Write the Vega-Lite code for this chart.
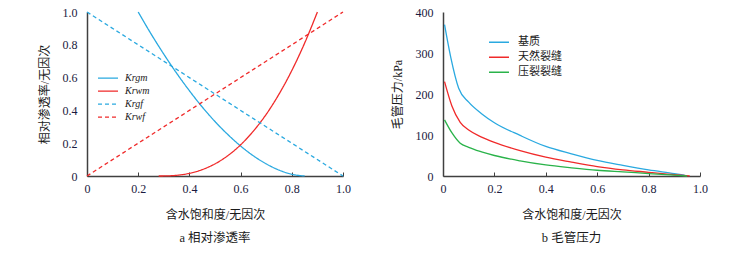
{
  "$schema": "https://vega.github.io/schema/vega-lite/v6.json",
  "background": "white",
  "padding": {"left": 38, "top": 6, "right": 5, "bottom": 5},
  "spacing": 40,
  "resolve": {"scale": {"color": "independent", "strokeDash": "independent"}, "legend": {"color": "independent", "strokeDash": "independent"}},
  "config": {
    "view": {"stroke": null},
    "axis": {
      "grid": false,
      "labelFlush": false,
      "domainColor": "#404040",
      "domainWidth": 1.5,
      "labelFont": "Liberation Serif",
      "labelFontSize": 12,
      "labelColor": "#1a1a40",
      "tickColor": "#404040",
      "titleFont": "Liberation Serif, Noto Sans CJK SC",
      "titleFontSize": 12,
      "titleFontWeight": "normal",
      "titleColor": "#1a1a1a"
    },
    "title": {"font": "Liberation Serif, Noto Sans CJK SC", "fontSize": 12.5, "fontWeight": "normal", "color": "#1a1a1a", "orient": "bottom", "offset": 12}
  },
  "hconcat": [
    {
      "width": 256,
      "height": 164,
      "title": {"text": "a  相对渗透率"},
      "data": {"values": [
        {"sw": 0.2, "k": 1.0, "s": "Krgm"},
        {"sw": 0.25, "k": 0.867, "s": "Krgm"},
        {"sw": 0.3, "k": 0.743, "s": "Krgm"},
        {"sw": 0.35, "k": 0.627, "s": "Krgm"},
        {"sw": 0.4, "k": 0.52, "s": "Krgm"},
        {"sw": 0.45, "k": 0.421, "s": "Krgm"},
        {"sw": 0.5, "k": 0.332, "s": "Krgm"},
        {"sw": 0.55, "k": 0.253, "s": "Krgm"},
        {"sw": 0.6, "k": 0.183, "s": "Krgm"},
        {"sw": 0.65, "k": 0.123, "s": "Krgm"},
        {"sw": 0.7, "k": 0.074, "s": "Krgm"},
        {"sw": 0.75, "k": 0.036, "s": "Krgm"},
        {"sw": 0.8, "k": 0.0104, "s": "Krgm"},
        {"sw": 0.85, "k": 0.0, "s": "Krgm"},
        {"sw": 0.28, "k": 0.0, "s": "Krwm"},
        {"sw": 0.3, "k": 0.0002, "s": "Krwm"},
        {"sw": 0.35, "k": 0.0042, "s": "Krwm"},
        {"sw": 0.4, "k": 0.0162, "s": "Krwm"},
        {"sw": 0.45, "k": 0.0389, "s": "Krwm"},
        {"sw": 0.5, "k": 0.074, "s": "Krwm"},
        {"sw": 0.55, "k": 0.124, "s": "Krwm"},
        {"sw": 0.6, "k": 0.19, "s": "Krwm"},
        {"sw": 0.65, "k": 0.274, "s": "Krwm"},
        {"sw": 0.7, "k": 0.376, "s": "Krwm"},
        {"sw": 0.75, "k": 0.499, "s": "Krwm"},
        {"sw": 0.8, "k": 0.643, "s": "Krwm"},
        {"sw": 0.85, "k": 0.81, "s": "Krwm"},
        {"sw": 0.9, "k": 1.0, "s": "Krwm"},
        {"sw": 0.0, "k": 1.0, "s": "Krgf"},
        {"sw": 1.0, "k": 0.0, "s": "Krgf"},
        {"sw": 0.0, "k": 0.0, "s": "Krwf"},
        {"sw": 1.0, "k": 1.0, "s": "Krwf"}
      ]},
      "mark": {"type": "line", "strokeWidth": 1.3, "interpolate": "monotone"},
      "encoding": {
        "x": {"field": "sw", "type": "quantitative", "scale": {"domain": [0, 1], "nice": false},
          "axis": {"title": "含水饱和度/无因次", "values": [0, 0.2, 0.4, 0.6, 0.8, 1], "labelExpr": "datum.value == 0 ? '0' : format(datum.value, '.1f')", "tickSize": -4, "labelPadding": 11, "titlePadding": 15}},
        "y": {"field": "k", "type": "quantitative", "scale": {"domain": [0, 1], "nice": false},
          "axis": {"title": "相对渗透率/无因次", "values": [0, 0.2, 0.4, 0.6, 0.8, 1], "labelExpr": "datum.value == 0 ? '0' : format(datum.value, '.1f')", "ticks": false, "labelPadding": 10, "titlePadding": 11}},
        "color": {"field": "s", "type": "nominal", "title": null,
          "scale": {"domain": ["Krgm", "Krwm", "Krgf", "Krwf"], "range": ["#2aa9e0", "#f02a2a", "#2aa9e0", "#f02a2a"]},
          "legend": {"orient": "none", "legendX": 10, "legendY": 60, "symbolType": "stroke", "symbolSize": 400, "symbolStrokeWidth": 1.3, "clipHeight": 12.4, "labelFont": "Liberation Serif", "labelFontStyle": "italic", "labelFontSize": 10, "labelColor": "#1a1a1a", "labelOffset": 6, "rowPadding": 0}},
        "strokeDash": {"field": "s", "type": "nominal", "title": null,
          "scale": {"domain": ["Krgm", "Krwm", "Krgf", "Krwf"], "range": [[1, 0], [1, 0], [4, 3], [4, 3]]},
          "legend": {"orient": "none", "legendX": 10, "legendY": 60, "symbolType": "stroke", "symbolSize": 400, "symbolStrokeWidth": 1.3, "clipHeight": 12.4, "labelFont": "Liberation Serif", "labelFontStyle": "italic", "labelFontSize": 10, "labelColor": "#1a1a1a", "labelOffset": 6, "rowPadding": 0}}
      }
    },
    {
      "width": 257,
      "height": 164,
      "title": {"text": "b  毛管压力"},
      "data": {"values": [
        {"sw": 0.006, "p": 369, "s": "基质"},
        {"sw": 0.03, "p": 290, "s": "基质"},
        {"sw": 0.061, "p": 214, "s": "基质"},
        {"sw": 0.1, "p": 180, "s": "基质"},
        {"sw": 0.15, "p": 152, "s": "基质"},
        {"sw": 0.2, "p": 130, "s": "基质"},
        {"sw": 0.3, "p": 99, "s": "基质"},
        {"sw": 0.4, "p": 72, "s": "基质"},
        {"sw": 0.5, "p": 54, "s": "基质"},
        {"sw": 0.6, "p": 38, "s": "基质"},
        {"sw": 0.7, "p": 26, "s": "基质"},
        {"sw": 0.8, "p": 15, "s": "基质"},
        {"sw": 0.9, "p": 6, "s": "基质"},
        {"sw": 0.94, "p": 2, "s": "基质"},
        {"sw": 0.006, "p": 230, "s": "天然裂缝"},
        {"sw": 0.035, "p": 170, "s": "天然裂缝"},
        {"sw": 0.067, "p": 131, "s": "天然裂缝"},
        {"sw": 0.1, "p": 112, "s": "天然裂缝"},
        {"sw": 0.15, "p": 95, "s": "天然裂缝"},
        {"sw": 0.2, "p": 82, "s": "天然裂缝"},
        {"sw": 0.3, "p": 62, "s": "天然裂缝"},
        {"sw": 0.4, "p": 46, "s": "天然裂缝"},
        {"sw": 0.5, "p": 34, "s": "天然裂缝"},
        {"sw": 0.6, "p": 23, "s": "天然裂缝"},
        {"sw": 0.7, "p": 15, "s": "天然裂缝"},
        {"sw": 0.8, "p": 9, "s": "天然裂缝"},
        {"sw": 0.9, "p": 3, "s": "天然裂缝"},
        {"sw": 0.96, "p": 0, "s": "天然裂缝"},
        {"sw": 0.006, "p": 137, "s": "压裂裂缝"},
        {"sw": 0.035, "p": 105, "s": "压裂裂缝"},
        {"sw": 0.067, "p": 80, "s": "压裂裂缝"},
        {"sw": 0.1, "p": 70, "s": "压裂裂缝"},
        {"sw": 0.15, "p": 59, "s": "压裂裂缝"},
        {"sw": 0.2, "p": 50, "s": "压裂裂缝"},
        {"sw": 0.3, "p": 37, "s": "压裂裂缝"},
        {"sw": 0.4, "p": 27, "s": "压裂裂缝"},
        {"sw": 0.5, "p": 20, "s": "压裂裂缝"},
        {"sw": 0.6, "p": 14, "s": "压裂裂缝"},
        {"sw": 0.7, "p": 10, "s": "压裂裂缝"},
        {"sw": 0.8, "p": 6, "s": "压裂裂缝"},
        {"sw": 0.9, "p": 2, "s": "压裂裂缝"},
        {"sw": 0.95, "p": 0, "s": "压裂裂缝"}
      ]},
      "mark": {"type": "line", "strokeWidth": 1.3, "interpolate": "monotone"},
      "encoding": {
        "x": {"field": "sw", "type": "quantitative", "scale": {"domain": [0, 1], "nice": false},
          "axis": {"title": "含水饱和度/无因次", "values": [0, 0.2, 0.4, 0.6, 0.8, 1], "labelExpr": "datum.value == 0 ? '0' : format(datum.value, '.1f')", "tickSize": -4, "labelPadding": 11, "titlePadding": 15}},
        "y": {"field": "p", "type": "quantitative", "scale": {"domain": [0, 400], "nice": false},
          "axis": {"title": "毛管压力/kPa", "values": [0, 100, 200, 300, 400], "ticks": false, "labelPadding": 10, "titlePadding": 11}},
        "color": {"field": "s", "type": "nominal", "title": null,
          "scale": {"domain": ["基质", "天然裂缝", "压裂裂缝"], "range": ["#2aa9e0", "#f02a2a", "#2ab34a"]},
          "legend": {"orient": "none", "legendX": 45, "legendY": 23, "symbolType": "stroke", "symbolSize": 400, "symbolStrokeWidth": 1.3, "clipHeight": 14.5, "labelFont": "Noto Sans CJK SC", "labelFontSize": 11, "labelColor": "#1a1a1a", "labelOffset": 8, "rowPadding": 0}}
      }
    }
  ]
}
